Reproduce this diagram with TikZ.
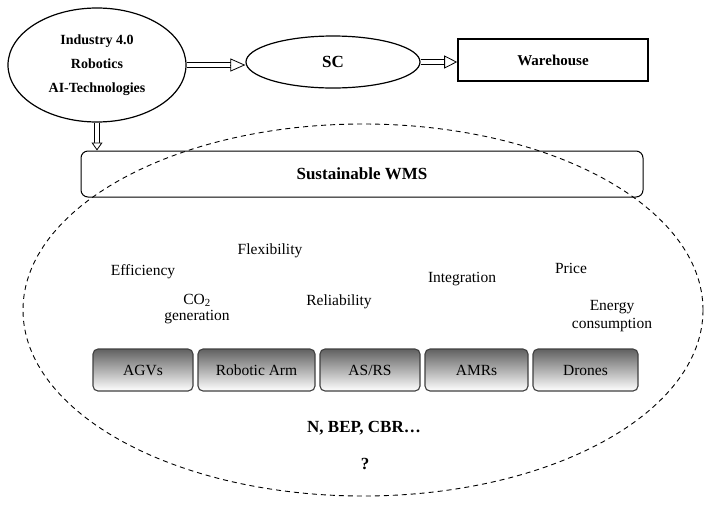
\documentclass[tikz,border=0pt]{standalone}
\usepackage{fontspec}
\setmainfont{Liberation Serif}
\usetikzlibrary{shapes.geometric,arrows.meta,calc}
\tikzset{
 oval/.style={ellipse, draw, line width=1.2pt, inner sep=0pt},
 hd/.style={font=\fontsize{14}{24}\selectfont\bfseries, align=center},
 lbl/.style={font=\fontsize{15.5}{17}\selectfont, align=center, inner sep=0pt, anchor=base},
 tech/.style={draw=black!75, line width=1.1pt, rounded corners=5pt, top color=black!62, bottom color=white, minimum height=42pt, inner sep=0pt, font=\fontsize{15.5}{17}\selectfont},
 shaft/.style={double, double distance=3.5pt, line width=0.8pt, shorten >=#1},
 head/.style={line width=0.8pt, -{Triangle[length=#1, width=13pt, fill=white]}},
 vhead/.style={line width=0.8pt, -{Triangle[length=#1, width=11pt, fill=white]}},
}
\begin{document}
\begin{tikzpicture}[x=1pt,y=-1pt]
\useasboundingbox (0,0) rectangle (714,512);
% top nodes
\node[oval, minimum width=178pt, minimum height=114pt, hd] (ind) at (97,65) {Industry 4.0\\Robotics\\AI-Technologies};
\node[oval, minimum width=174pt, minimum height=52pt, font=\fontsize{17}{20}\selectfont\bfseries] (sc) at (333,62) {SC};
\node[draw, line width=1.6pt, minimum width=190pt, minimum height=42pt, inner sep=0pt, font=\fontsize{15}{18}\selectfont\bfseries] (wh) at (553,60) {Warehouse};
\node[draw, line width=1pt, rounded corners=7pt, minimum width=562pt, minimum height=46pt, inner sep=0pt, font=\fontsize{17}{20}\selectfont\bfseries] (wms) at (362,174) {Sustainable WMS};
% dashed region
\node[ellipse, draw, dashed, dash pattern=on 5pt off 4pt, line width=0.9pt, minimum width=680pt, minimum height=372pt, inner sep=0pt] (region) at (363,310) {};
% arrows
\coordinate (a1) at (ind.east -| sc.west);
\draw[shaft=13pt] (ind.east) -- (a1);
\draw[head=15pt] ($(a1)!15pt!(ind.east)$) -- (a1);
\coordinate (a2) at (sc.east -| wh.west);
\draw[shaft=11pt] (sc.east) -- (a2);
\draw[head=13pt] ($(a2)!13pt!(sc.east)$) -- (a2);
\coordinate (a3) at (ind.south |- wms.north);
\draw[shaft=7pt] (ind.south) -- (a3);
\draw[vhead=8pt] ($(a3)!8pt!(ind.south)$) -- (a3);
% criteria
\node[lbl] (eff) at (143,275) {Efficiency};
\node[lbl] (flex) at (270,254) {Flexibility};
\node[lbl, font=\fontsize{15.5}{16}\selectfont] (co2) at (197,320) {CO\textsubscript{2}\\generation};
\node[lbl] (rel) at (339,305) {Reliability};
\node[lbl] (int) at (462,282) {Integration};
\node[lbl] (price) at (571,273) {Price};
\node[lbl, font=\fontsize{15.5}{18}\selectfont] (energy) at (612,328) {Energy\\consumption};
% technologies
\node[tech, minimum width=100pt] (agv) at (143,370) {AGVs};
\node[tech, minimum width=117pt] (arm) at (256.5,370) {Robotic Arm};
\node[tech, minimum width=100pt] (asrs) at (370,370) {AS/RS};
\node[tech, minimum width=103pt] (amr) at (476.5,370) {AMRs};
\node[tech, minimum width=105pt] (drone) at (585.5,370) {Drones};
% bottom
\node[font=\fontsize{17}{20}\selectfont\bfseries, anchor=base] (nbep) at (364,432) {N, BEP, CBR…};
\node[font=\fontsize{17}{20}\selectfont\bfseries, anchor=base] (q) at (365,469) {?};
\end{tikzpicture}
\end{document}
